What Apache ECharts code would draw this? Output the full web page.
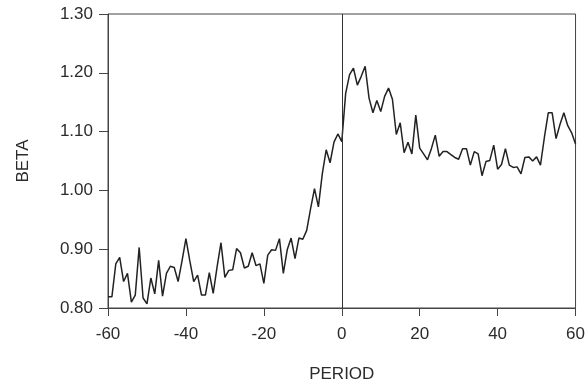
<!DOCTYPE html>
<html>
<head>
<meta charset="utf-8">
<script src="https://cdn.jsdelivr.net/npm/echarts@6/dist/echarts.min.js"></script>
<style>
  html, body { margin: 0; padding: 0; background: #fff; }
  #chart { width: 588px; height: 388px; }
</style>
</head>
<body>
<div id="chart"></div>
<script>
// periods -60 .. 60
var periods = [];
for (var p = -60; p <= 60; p++) periods.push(p);

// beta, one value per period
var beta = [
  0.819, 0.819, 0.875, 0.886, 0.845, 0.859, 0.810, 0.822, 0.903, 0.817,
  0.807, 0.851, 0.824, 0.881, 0.820, 0.859, 0.871, 0.869, 0.845, 0.880,
  0.918, 0.880, 0.845, 0.856, 0.822, 0.822, 0.860, 0.825, 0.870, 0.911,
  0.852, 0.864, 0.865, 0.901, 0.894, 0.868, 0.871, 0.894, 0.872, 0.875,
  0.842, 0.890, 0.899, 0.898, 0.918, 0.859, 0.899, 0.919, 0.884, 0.919,
  0.917, 0.932, 0.969, 1.003, 0.972, 1.028, 1.069, 1.047, 1.082, 1.096,
  1.083, 1.165, 1.197, 1.208, 1.179, 1.194, 1.211, 1.157, 1.132, 1.153,
  1.134, 1.160, 1.174, 1.155, 1.095, 1.115, 1.064, 1.082, 1.062, 1.128,
  1.072, 1.062, 1.052, 1.071, 1.094, 1.058, 1.066, 1.066, 1.061, 1.056,
  1.053, 1.071, 1.071, 1.043, 1.066, 1.062, 1.025, 1.049, 1.051, 1.077,
  1.036, 1.044, 1.071, 1.043, 1.039, 1.040, 1.028, 1.056, 1.057, 1.050,
  1.057, 1.043, 1.090, 1.132, 1.132, 1.088, 1.112, 1.132, 1.110, 1.098,
  1.079
];

var xTicks = { min: -60, max: 60, step: 20 };
var yTicks = { min: 0.8, max: 1.3, step: 0.1 };

var myChart = echarts.init(document.getElementById('chart'));
var txt = { color: '#2b2b2b', fontFamily: 'Liberation Sans, Arial, sans-serif', fontSize: 17 };
var axisCol = '#444';

var option = {
  animation: false,
  grid: {
    left: 108, right: 9, top: 14, bottom: 78,
    show: true, borderColor: axisCol, borderWidth: 1
  },
  xAxis: {
    type: 'value',
    min: xTicks.min, max: xTicks.max, interval: xTicks.step,
    name: 'PERIOD', nameLocation: 'middle', nameGap: 58,
    nameTextStyle: txt,
    axisLine: { onZero: false, lineStyle: { color: axisCol, width: 1 } },
    axisTick: { length: 8, lineStyle: { color: axisCol } },
    axisLabel: Object.assign({ margin: 18 }, txt),
    splitLine: { show: false }
  },
  yAxis: {
    type: 'value',
    min: yTicks.min, max: yTicks.max, interval: yTicks.step,
    name: 'BETA', nameLocation: 'middle', nameGap: 76,
    nameTextStyle: txt,
    axisLine: { show: true, onZero: false, lineStyle: { color: axisCol, width: 1 } },
    axisTick: { show: true, length: 9, lineStyle: { color: axisCol } },
    axisLabel: Object.assign({ margin: 15, formatter: function (v) { return v.toFixed(2); } }, txt),
    splitLine: { show: false }
  },
  series: [
    {
      type: 'line',
      data: periods.map(function (p, i) { return [p, beta[i]]; }),
      showSymbol: false,
      lineStyle: { color: '#222', width: 1.5 },
      markLine: {
        silent: true,
        symbol: 'none',
        label: { show: false },
        lineStyle: { color: '#333', width: 1, type: 'solid' },
        data: [{ xAxis: 0 }]
      }
    }
  ]
};
myChart.setOption(option);
</script>
</body>
</html>
